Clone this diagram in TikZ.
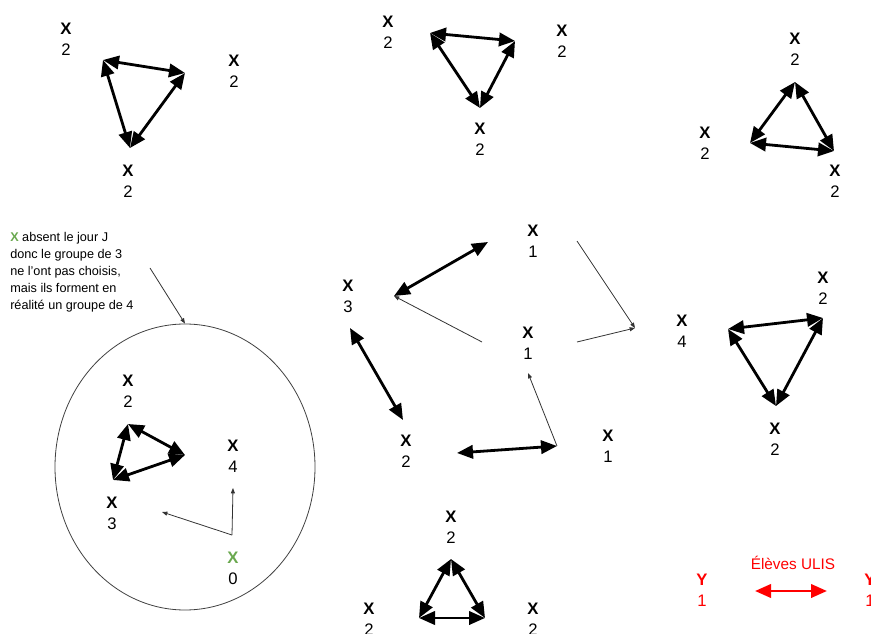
\documentclass[tikz,border=0pt]{standalone}
\usepackage{fontspec}
\setmainfont{Liberation Sans}
\usetikzlibrary{arrows.meta,shapes.geometric}
\definecolor{vert}{HTML}{6AA84F}
\definecolor{rouge}{HTML}{FF0000}
\begin{document}
\begin{tikzpicture}[x=0.75pt,y=-0.75pt,
	eleve/.style={align=center,inner sep=0pt,font=\fontsize{12.5}{15.75}\selectfont},
	lien/.style={{Triangle[length=12pt,width=10pt]}-{Triangle[length=12pt,width=10pt]},line width=2.1pt},
	fleche/.style={-{Triangle[length=4pt,width=3pt]},line width=0.6pt,black!80}]
	\useasboundingbox (0,0) rectangle (871,634);
	% en haut a gauche
	\node (tl1) at (66,39) [eleve] {\textbf{X}\\2};
	\node (tl2) at (234,71) [eleve] {\textbf{X}\\2};
	\node (tl3) at (128,181) [eleve] {\textbf{X}\\2};
	\coordinate (tla) at (103,60);
	\coordinate (tlb) at (185,73);
	\coordinate (tlc) at (130,148);
	\draw [lien] (tla) -- (tlb);
	\draw [lien] (tlb) -- (tlc);
	\draw [lien] (tlc) -- (tla);
	% en haut au milieu
	\node (tm1) at (388,32) [eleve] {\textbf{X}\\2};
	\node (tm2) at (562,41) [eleve] {\textbf{X}\\2};
	\node (tm3) at (480,139) [eleve] {\textbf{X}\\2};
	\coordinate (tma) at (430,33);
	\coordinate (tmb) at (515,41);
	\coordinate (tmc) at (480,108);
	\draw [lien] (tma) -- (tmb);
	\draw [lien] (tmb) -- (tmc);
	\draw [lien] (tmc) -- (tma);
	% en haut a droite
	\node (tr1) at (795,49) [eleve] {\textbf{X}\\2};
	\node (tr2) at (705,143) [eleve] {\textbf{X}\\2};
	\node (tr3) at (835,181) [eleve] {\textbf{X}\\2};
	\coordinate (tra) at (795,82);
	\coordinate (trb) at (750,143);
	\coordinate (trc) at (834,151);
	\draw [lien] (tra) -- (trb);
	\draw [lien] (trb) -- (trc);
	\draw [lien] (trc) -- (tra);
	% le groupe de 4
	\node (note) at (10,232) [anchor=north west,align=left,inner sep=0pt,font=\fontsize{9.5}{12.75}\selectfont]
		{\textcolor{vert}{\textbf{X}} absent le jour J\\donc le groupe de 3\\ne l’ont pas choisis,\\mais ils forment en\\réalité un groupe de 4};
	\node (cercle) at (185,467) [draw=black!75,line width=0.6pt,ellipse,inner sep=0pt,minimum width=195pt,minimum height=214.5pt] {};
	\coordinate (notep) at (150,268);
	\draw [fleche] (notep) -- (cercle.north);
	\node (ci1) at (128,391) [eleve] {\textbf{X}\\2};
	\node (ci2) at (233,456) [eleve] {\textbf{X}\\4};
	\node (ci3) at (112,513) [eleve] {\textbf{X}\\3};
	\node (ci0) at (233,568) [eleve] {\textcolor{vert}{\textbf{X}}\\0};
	\coordinate (cia) at (128,424);
	\coordinate (cib) at (185,455);
	\coordinate (cic) at (113,480);
	\draw [lien] (cia) -- (cib);
	\draw [lien] (cib) -- (cic);
	\draw [lien] (cic) -- (cia);
	\coordinate (cip) at (232,535);
	\coordinate (ciq) at (233,488);
	\coordinate (cir) at (162,512);
	\draw [fleche] (cip) -- (ciq);
	\draw [fleche] (cip) -- (cir);
	% au centre
	\node (ce1) at (533,241) [eleve] {\textbf{X}\\1};
	\node (ce2) at (348,296) [eleve] {\textbf{X}\\3};
	\node (ce3) at (528,343) [eleve] {\textbf{X}\\1};
	\node (ce4) at (406,451) [eleve] {\textbf{X}\\2};
	\node (ce5) at (608,446) [eleve] {\textbf{X}\\1};
	\coordinate (cea) at (488,242);
	\coordinate (ceb) at (394,296);
	\coordinate (cec) at (482,342);
	\coordinate (ced) at (577,241);
	\coordinate (cee) at (635,328);
	\coordinate (cef) at (577,342);
	\coordinate (ceg) at (350,328);
	\coordinate (ceh) at (403,420);
	\coordinate (cei) at (457,453);
	\coordinate (cej) at (557,446);
	\coordinate (cek) at (528,373);
	\draw [lien] (cea) -- (ceb);
	\draw [fleche] (cec) -- (ceb);
	\draw [fleche] (ced) -- (cee);
	\draw [fleche] (cef) -- (cee);
	\draw [lien] (ceg) -- (ceh);
	\draw [lien] (cei) -- (cej);
	\draw [fleche] (cej) -- (cek);
	% a droite
	\node (dr1) at (823,288) [eleve] {\textbf{X}\\2};
	\node (dr2) at (682,331) [eleve] {\textbf{X}\\4};
	\node (dr3) at (775,439) [eleve] {\textbf{X}\\2};
	\coordinate (dra) at (728,329);
	\coordinate (drb) at (823,318);
	\coordinate (drc) at (776,406);
	\draw [lien] (dra) -- (drb);
	\draw [lien] (drb) -- (drc);
	\draw [lien] (drc) -- (dra);
	% en bas
	\node (bt1) at (451,527) [eleve] {\textbf{X}\\2};
	\node (bt2) at (369,619) [eleve] {\textbf{X}\\2};
	\node (bt3) at (533,619) [eleve] {\textbf{X}\\2};
	\coordinate (bta) at (451,559);
	\coordinate (btb) at (419,618);
	\coordinate (btc) at (485,618);
	\draw [lien] (bta) -- (btb);
	\draw [lien] (btb) -- (btc);
	\draw [lien] (btc) -- (bta);
	% legende
	\node (ulis) at (793,563) [text=rouge,font=\fontsize{11.5}{13}\selectfont] {Élèves ULIS};
	\node (ul1) at (702,590) [eleve,text=rouge] {\textbf{Y}\\1};
	\node (ul2) at (870,590) [eleve,text=rouge] {\textbf{Y}\\1};
	\coordinate (ula) at (755,591);
	\coordinate (ulb) at (827,591);
	\draw [lien,rouge] (ula) -- (ulb);
\end{tikzpicture}
\end{document}
